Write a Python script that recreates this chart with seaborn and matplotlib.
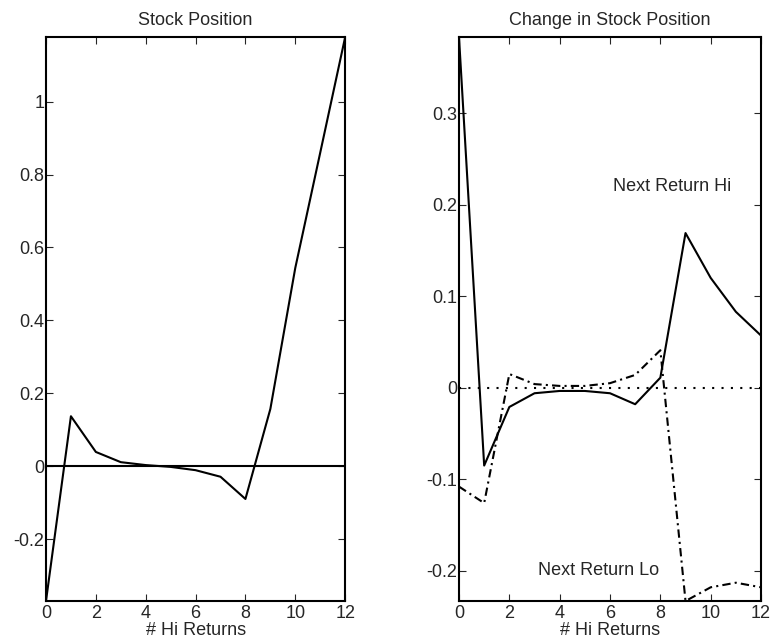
import pandas as pd
import seaborn as sns
import matplotlib
matplotlib.use("Agg")
import matplotlib.pyplot as plt

# number of Hi returns
hi_returns = list(range(13))

# left panel: stock position
stock_position = [-0.370, 0.137, 0.039, 0.011, 0.003, -0.002, -0.011,
                  -0.029, -0.090, 0.157, 0.544, 0.860, 1.177]

# right panel: change in stock position
change_next_hi = [0.383, -0.085, -0.021, -0.006, -0.0035, -0.0035, -0.006,
                  -0.018, 0.011, 0.169, 0.120, 0.083, 0.057]
change_next_lo = [-0.108, -0.126, 0.015, 0.004, 0.002, 0.002, 0.005,
                  0.014, 0.041, -0.233, -0.218, -0.213, -0.218]

left_yticks = [-0.2, 0, 0.2, 0.4, 0.6, 0.8, 1]
left_yticklabels = ["-0.2", "0", "0.2", "0.4", "0.6", "0.8", "1"]
right_yticks = [-0.2, -0.1, 0, 0.1, 0.2, 0.3]
right_yticklabels = ["-0.2", "-0.1", "0", "0.1", "0.2", "0.3"]
xticks = [0, 2, 4, 6, 8, 10, 12]

sns.set_style("ticks")
plt.rcParams["font.family"] = ["Liberation Sans", "DejaVu Sans"]
plt.rcParams["xtick.direction"] = "in"
plt.rcParams["ytick.direction"] = "in"

FS = 13

df_left = pd.DataFrame({"k": hi_returns, "pos": stock_position})
df_right = pd.DataFrame({
    "k": hi_returns * 2,
    "chg": change_next_hi + change_next_lo,
    "series": ["Hi"] * 13 + ["Lo"] * 13,
})

fig = plt.figure(figsize=(7.73, 6.4), dpi=100)
ax1 = fig.add_axes([0.0595, 0.0609, 0.387, 0.881])
ax2 = fig.add_axes([0.5938, 0.0609, 0.3907, 0.881])

sns.lineplot(data=df_left, x="k", y="pos", color="black", linewidth=1.5, ax=ax1)
ax1.axhline(0, color="black", linewidth=1.5)
ax1.set_xlim(0, 12)
ax1.set_ylim(min(stock_position), max(stock_position))
ax1.set_title("Stock Position", fontsize=FS, pad=9)

sns.lineplot(data=df_right, x="k", y="chg", style="series",
             dashes={"Hi": "", "Lo": (4, 2, 1, 2)},
             color="black", linewidth=1.5, legend=False, ax=ax2)
ax2.axhline(0, color="black", linewidth=1.5, linestyle=(0, (1, 3.5)))
ax2.set_xlim(0, 12)
ax2.set_ylim(min(change_next_lo), max(change_next_hi))
ax2.set_title("Change in Stock Position", fontsize=FS, pad=9)
ax2.text(8.45, 0.22, "Next Return Hi", ha="center", va="center", fontsize=FS)
ax2.text(5.55, -0.2, "Next Return Lo", ha="center", va="center", fontsize=FS)

for ax, yt, ytl in [(ax1, left_yticks, left_yticklabels),
                    (ax2, right_yticks, right_yticklabels)]:
    ax.set_xticks(xticks)
    ax.set_xticklabels([str(t) for t in xticks])
    ax.set_yticks(yt)
    ax.set_yticklabels(ytl)
    ax.set_xlabel("# Hi Returns", fontsize=FS, labelpad=0)
    ax.set_ylabel("")
    ax.tick_params(axis="both", labelsize=FS, length=5, width=0.8,
                   top=True, right=True)
    ax.tick_params(axis="x", pad=3)
    ax.tick_params(axis="y", pad=1)
    for s in ax.spines.values():
        s.set_linewidth(1.5)
        s.set_color("black")

plt.savefig("out.png", dpi=100)
